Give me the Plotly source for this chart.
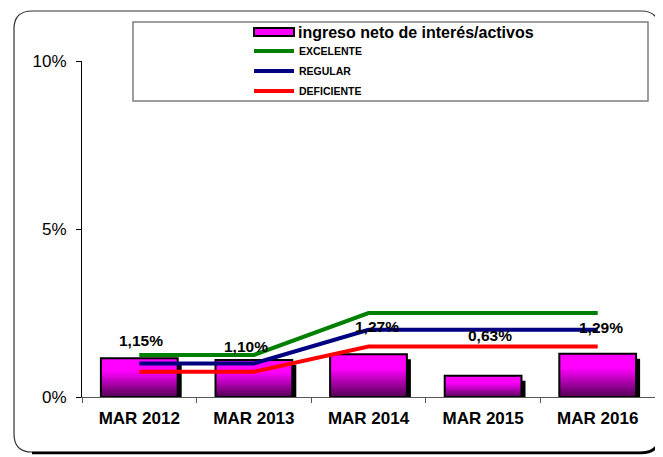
import plotly.graph_objects as go

# ---------------- data ----------------
categories = ["MAR 2012", "MAR 2013", "MAR 2014", "MAR 2015", "MAR 2016"]
ratio = [1.15, 1.10, 1.27, 0.63, 1.29]          # ingreso neto de interés/activos (%)
excelente = [1.25, 1.25, 2.5, 2.5, 2.5]
regular = [1.0, 1.0, 2.0, 2.0, 2.0]
deficiente = [0.75, 0.75, 1.5, 1.5, 1.5]
y_tick_vals = [0, 5, 10]
y_tick_text = ["0%", "5%", "10%"]

# ---------------- styling ----------------
label_shift = [18, 14, 28, 40, 26]   # px above bar tops (as in reference)
label_xshift = [2, -8, 8, 7, 3]      # px horizontal nudges (as in reference)
FONT = "Liberation Sans, Arial, sans-serif"
OFF = 8                               # page body margin of the browser
W, H = 663 - OFF, 457 - OFF
ML, MT = 82 - OFF, 61 - OFF
MR = W - (655 - OFF)
MB = H - (397 - OFF)
PW, PH = W - ML - MR, H - MT - MB


def px(x):
    return (x - OFF - ML) / PW


def py(y):
    return (H - MB - (y - OFF)) / PH


fig = go.Figure()
BW = 0.67

# bar shadow
fig.add_bar(x=categories, y=ratio, base=-0.15, width=BW, offset=-BW / 2 + 0.035,
            marker=dict(color="black", line_width=0), showlegend=False, hoverinfo="skip")

# gradient bars (magenta on top -> dark purple at bottom)
N = 24


def grad_color(f):
    t = min(f / 0.68, 1.0)
    c = int(0x50 + (0xFF - 0x50) * t)
    return f"rgb({c},0,{c})"


for i in range(N):
    f0, f1 = i / N, (i + 1) / N
    fig.add_bar(x=categories, y=[v / N for v in ratio], base=[v * f0 for v in ratio],
                width=BW, offset=-BW / 2,
                marker=dict(color=grad_color((f0 + f1) / 2), line_width=0),
                showlegend=False, hoverinfo="skip")

# bar outline
fig.add_bar(x=categories, y=ratio, width=BW, offset=-BW / 2, name="ingreso neto de interés/activos",
            marker=dict(color="rgba(0,0,0,0)", line=dict(color="black", width=2)),
            showlegend=False)

# benchmark lines
for name, vals, col, lg in [("EXCELENTE", excelente, "#008000", "legend"),
                            ("REGULAR", regular, "#000080", "legend2"),
                            ("DEFICIENTE", deficiente, "#FF0000", "legend3")]:
    fig.add_scatter(x=categories, y=vals, mode="lines", name=name,
                    line=dict(color=col, width=4), legend=lg)

# data labels
annotations = []
for c, v, s, xs in zip(categories, ratio, label_shift, label_xshift):
    annotations.append(dict(x=c, y=v, xref="x", yref="y", text=f"{v:.2f}".replace(".", ",") + "%",
                            showarrow=False, yshift=s, xshift=xs, yanchor="middle",
                            font=dict(family=FONT, size=15.5, color="black", weight="bold")))

# manual legend entry for the bar series
annotations.append(dict(x=px(296), y=py(32), xref="paper", yref="paper", xanchor="left",
                        yanchor="middle", showarrow=False, text="ingreso neto de interés/activos",
                        font=dict(family=FONT, size=16, color="black", weight="bold")))

shapes = [
    # legend box
    dict(type="rect", xref="paper", yref="paper", x0=px(133), x1=px(648), y0=py(22), y1=py(101),
         line=dict(color="#7f7f7f", width=1.5), fillcolor="rgba(0,0,0,0)", layer="below"),
    # bar legend symbol
    dict(type="rect", xref="paper", yref="paper", x0=px(254), x1=px(294), y0=py(28), y1=py(36),
         line=dict(color="black", width=2), fillcolor="#FF00FF"),
]

# outer rounded frame
x0, x1, y0, y1, r = 14, 659, 11, 452, 18


def P(x, y):
    return f"{px(x):.5f},{py(y):.5f}"


frame = (f"M{P(x0 + r, y0)} L{P(x1 - r, y0)} Q{P(x1, y0)} {P(x1, y0 + r)} "
         f"L{P(x1, y1 - r)} Q{P(x1, y1)} {P(x1 - r, y1)} L{P(x0 + r, y1)} "
         f"Q{P(x0, y1)} {P(x0, y1 - r)} L{P(x0, y0 + r)} Q{P(x0, y0)} {P(x0 + r, y0)} Z")
shapes.append(dict(type="path", xref="paper", yref="paper", path=frame,
                   line=dict(color="#333333", width=1.2), layer="below"))
shadow = (f"M{P(x0 + r, y1 + 1)} L{P(x1 - r, y1 + 1)} Q{P(x1 + 1, y1 + 1)} {P(x1 + 1, y1 - r)} "
          f"L{P(x1 + 1, y1 - 60)}")
shapes.append(dict(type="path", xref="paper", yref="paper", path=shadow,
                   line=dict(color="black", width=2.5), layer="below"))

leg_common = dict(xref="paper", yref="paper", xanchor="left", yanchor="middle",
                  bgcolor="rgba(0,0,0,0)", borderwidth=0, itemwidth=40,
                  font=dict(family=FONT, size=10.5, color="black", weight="bold"))

fig.update_layout(
    width=W, height=H,
    margin=dict(l=ML, r=MR, t=MT, b=MB),
    paper_bgcolor="white", plot_bgcolor="white",
    barmode="overlay",
    font=dict(family=FONT, color="black"),
    xaxis=dict(type="category", range=[-0.5, 4.5], showline=True, linecolor="#555555", linewidth=1,
               ticks="outside", tickson="boundaries", ticklen=5, tickcolor="#555555",
               ticklabelstandoff=6,
               tickfont=dict(family=FONT, size=17, color="black", weight="bold"),
               showgrid=False, fixedrange=True),
    yaxis=dict(range=[0, 10], tickvals=y_tick_vals, ticktext=y_tick_text, showline=True,
               linecolor="black", linewidth=1, ticks="outside", ticklen=5, tickcolor="black",
               showgrid=False, zeroline=False, ticklabelstandoff=6,
               tickfont=dict(family=FONT, size=17, color="black")),
    legend=dict(x=px(249), y=py(51), **leg_common),
    legend2=dict(x=px(249), y=py(71), **leg_common),
    legend3=dict(x=px(249), y=py(91), **leg_common),
    annotations=annotations,
    shapes=shapes,
)

fig.write_html("out.html")
